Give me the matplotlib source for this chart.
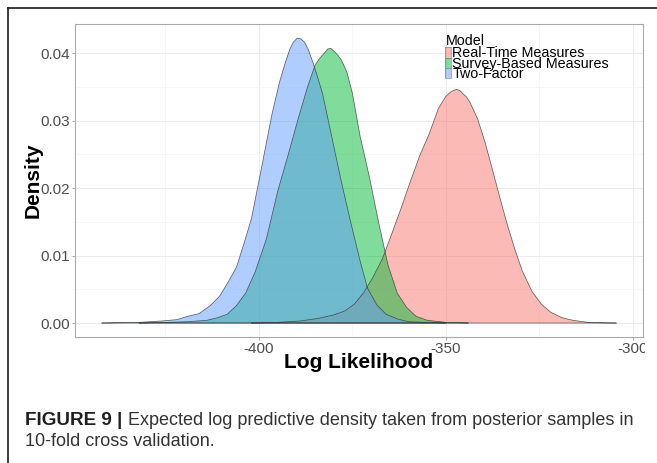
import matplotlib
matplotlib.use("Agg")
import matplotlib.pyplot as plt
from matplotlib.patches import Rectangle
from matplotlib.lines import Line2D
from matplotlib import font_manager

# ---------------- data ----------------
models = ["Real-Time Measures", "Survey-Based Measures", "Two-Factor"]
model_colors = ["#F8766D", "#00BA38", "#619CFF"]

realtime_x = [-402, -395, -389, -384, -380, -377, -374.5, -372, -369.5, -367, -364.5,
              -362, -359.5, -357, -354.5, -352, -350, -348.8, -347.8, -347, -346.2,
              -345.5, -344.5, -343.5, -341.5, -339.5, -337.5, -335.5, -333.5, -331.5,
              -329.5, -327, -324.5, -322, -319, -316, -312, -308, -304.4]
realtime_y = [0, 0.0001, 0.0003, 0.0007, 0.0012, 0.0018, 0.0028, 0.0045, 0.0068, 0.0095,
              0.0132, 0.0170, 0.0210, 0.0248, 0.0280, 0.0318, 0.0336, 0.0342, 0.0345,
              0.0346, 0.0344, 0.0340, 0.0335, 0.0326, 0.0302, 0.0267, 0.0226, 0.0184,
              0.0144, 0.0108, 0.0076, 0.0047, 0.0028, 0.0016, 0.0008, 0.0004, 0.0001,
              0.00003, 0]

survey_x = [-432, -424, -419, -414, -411, -408.5, -406, -403.5, -401, -398, -395, -392,
            -389.5, -387, -385, -383.8, -382.5, -381.6, -380.8, -379.8, -378.8, -378,
            -376.5, -375, -373, -370.5, -368, -365.5, -363, -360.5, -358, -355, -350,
            -344]
survey_y = [0, 0.0001, 0.0002, 0.0004, 0.0008, 0.0013, 0.0026, 0.0045, 0.0076, 0.0125,
            0.0195, 0.0253, 0.0303, 0.0350, 0.0382, 0.0392, 0.0400, 0.0406, 0.0407,
            0.0402, 0.0396, 0.0390, 0.0372, 0.0340, 0.0278, 0.0217, 0.0149, 0.0086,
            0.0044, 0.0023, 0.0010, 0.0004, 0.0001, 0]

twofactor_x = [-442, -432, -426, -422, -419, -416, -413, -410.5, -408, -406, -404, -402,
               -399.5, -396.5, -394.5, -393, -391.8, -390.8, -389.8, -388.8, -387.8,
               -386.8, -385.5, -384.2, -383, -380.5, -378, -375.5, -373, -371, -368.5,
               -366, -363, -360, -356, -350]
twofactor_y = [0, 0.0001, 0.0003, 0.0005, 0.0010, 0.0014, 0.0026, 0.0040, 0.0063, 0.0083,
               0.0118, 0.0155, 0.0225, 0.0310, 0.0357, 0.0385, 0.0405, 0.0416, 0.0422,
               0.0421, 0.0416, 0.0405, 0.0385, 0.0362, 0.0340, 0.0275, 0.0210, 0.0150,
               0.0093, 0.0052, 0.0027, 0.0013, 0.0006, 0.0002, 0.0001, 0]

series_x = [realtime_x, survey_x, twofactor_x]
series_y = [realtime_y, survey_y, twofactor_y]

x_ticks = [-400, -350, -300]
x_tick_labels = ["-400", "-350", "-300"]
x_minor = [-425, -375, -325]
y_ticks = [0.00, 0.01, 0.02, 0.03, 0.04]
y_tick_labels = ["0.00", "0.01", "0.02", "0.03", "0.04"]
y_minor = [0.005, 0.015, 0.025, 0.035]

x_title = "Log Likelihood"
y_title = "Density"
legend_title = "Model"
caption_bold = "FIGURE 9 |"
caption_rest = "Expected log predictive density taken from posterior samples in"
caption_line2 = "10-fold cross validation."

# ---------------- figure ----------------
W, H, DPI = 657, 463, 100
plt.rcParams["font.family"] = ["Liberation Sans", "DejaVu Sans"]

fig = plt.figure(figsize=(W / DPI, H / DPI), dpi=DPI)
fig.patch.set_facecolor("white")


def fx(px):
    return px / W


def fy(py):
    return 1 - py / H


ax = fig.add_axes([fx(75), fy(337), fx(643) - fx(75), fy(24) - fy(337)])
ax.set_facecolor("white")
ax.set_xlim(-449.2, -297.3)
ax.set_ylim(-0.00207, 0.0443)

# grid
ax.set_xticks(x_ticks)
ax.set_xticklabels(x_tick_labels)
ax.set_yticks(y_ticks)
ax.set_yticklabels(y_tick_labels)
ax.set_xticks(x_minor, minor=True)
ax.set_yticks(y_minor, minor=True)
ax.grid(which="major", color="#EBEBEB", linewidth=0.7, zorder=0)
ax.grid(which="minor", color="#F4F4F4", linewidth=0.5, zorder=0)
ax.set_axisbelow(True)
ax.tick_params(which="minor", length=0)
ax.tick_params(which="major", length=2.2, width=0.7, color="#AAAAAA",
               labelcolor="#4D4D4D", labelsize=11, pad=1.2)
for s in ax.spines.values():
    s.set_color("#AAAAAA")
    s.set_linewidth(0.8)

# densities
for xs, ys, col in zip(series_x, series_y, model_colors):
    ax.fill_between(xs, ys, 0, facecolor=col, alpha=0.5, edgecolor="none", zorder=2)
    px = list(xs) + [xs[-1], xs[0]]
    py = list(ys) + [0, 0]
    ax.plot(px, py, color="#333333", linewidth=0.55, alpha=0.75, zorder=3,
            solid_joinstyle="round")

# axis titles
fig.text(fx(359), fy(368), x_title, ha="center", va="baseline",
         fontsize=15, fontweight="bold", color="black")
fig.text(fx(39), fy(180.5), y_title, ha="center", va="baseline", rotation=90,
         rotation_mode="anchor", fontsize=15, fontweight="bold", color="black")

# legend (manual, ggplot-like tight layout)
fig.text(fx(445.5), fy(45), legend_title, ha="left", va="baseline",
         fontsize=10.3, color="black")
key_top = 47.3
key_h = 10.3
for i, (name, col) in enumerate(zip(models, model_colors)):
    y0 = key_top + i * key_h
    fig.patches.append(Rectangle((fx(445), fy(y0 + key_h)), fx(451) - fx(445),
                                 fy(y0) - fy(y0 + key_h), transform=fig.transFigure,
                                 facecolor=col, alpha=0.5, edgecolor="none"))
    fig.patches.append(Rectangle((fx(445), fy(y0 + key_h)), fx(451) - fx(445),
                                 fy(y0) - fy(y0 + key_h), transform=fig.transFigure,
                                 facecolor="none", edgecolor="#888888", linewidth=0.5))
    fig.text(fx(452.5), fy(y0 + key_h - 0.3), name, ha="left", va="baseline",
             fontsize=10.3, color="black")

# clip region on the right (reference picture is cropped there)
fig.patches.append(Rectangle((fx(645), fy(365)), fx(657) - fx(645), fy(338) - fy(365),
                             transform=fig.transFigure, facecolor="white",
                             edgecolor="none", zorder=10))

# outer frame lines (page border)
fig.lines.append(Line2D([fx(7.5), fx(657)], [fy(8), fy(8)], transform=fig.transFigure,
                        color="#1a1a1a", linewidth=1.2))
fig.lines.append(Line2D([fx(7.5), fx(7.5)], [fy(8), fy(463)], transform=fig.transFigure,
                        color="#1a1a1a", linewidth=1.2))

# caption
names = {f.name for f in font_manager.fontManager.ttflist}
cap_family = ["Liberation Sans Narrow", "Liberation Sans", "DejaVu Sans"] \
    if "Liberation Sans Narrow" in names else ["Liberation Sans", "DejaVu Sans"]

t_bold = fig.text(fx(25), fy(425), caption_bold, ha="left", va="baseline",
                  fontsize=12, fontweight="bold", color="#231F20")
t_rest = fig.text(fx(128.5), fy(425), caption_rest, ha="left", va="baseline",
                  fontsize=12, color="#333333", family=cap_family)
t_l2 = fig.text(fx(25), fy(445.5), caption_line2, ha="left", va="baseline",
                fontsize=12, color="#333333", family=cap_family)

renderer = fig.canvas.get_renderer()
wb = t_bold.get_window_extent(renderer).width
t_bold.set_fontsize(12 * 97.0 / wb)
wr = t_rest.get_window_extent(renderer).width
rest_size = 12 * (633.0 - 128.5) / wr
t_rest.set_fontsize(rest_size)
t_l2.set_fontsize(rest_size)

fig.savefig("out.png", dpi=DPI, facecolor="white")
